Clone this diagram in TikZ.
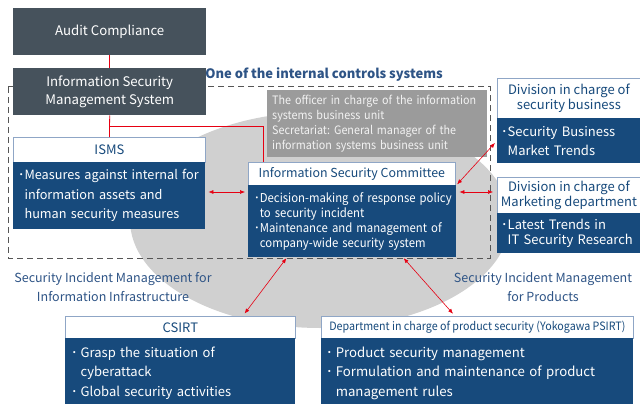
\documentclass[tikz,border=0pt]{standalone}
\usepackage{fontspec}
\usepackage{graphicx}
\setmainfont{Noto Sans CJK JP}
\newfontfamily\cnd[FakeStretch=0.93]{Noto Sans CJK JP}
\usetikzlibrary{arrows.meta}
\definecolor{slate}{HTML}{46525C}
\definecolor{navy}{HTML}{174A7C}
\definecolor{hdrline}{HTML}{8FA6C6}
\definecolor{lbl}{HTML}{2E5486}
\definecolor{ell}{HTML}{D0D0D0}
\definecolor{offc}{HTML}{9B9B9B}
\definecolor{offtxt}{HTML}{F2F2F2}
\definecolor{redl}{HTML}{E60012}
\definecolor{dashc}{HTML}{555555}
\newcommand\fsz[2]{\fontsize{#1}{#2}\selectfont}
\newcommand\bl{･}
\newcommand\cbl{\hphantom{･}}
\frenchspacing
\begin{document}
\frenchspacing
\begin{tikzpicture}[x=1pt,y=-1pt,
 dark/.style={fill=slate,text=white,inner sep=0,anchor=north west,align=center,font=\fsz{13.2}{18}},
 hdr/.style={draw=hdrline,line width=0.8pt,fill=white,text=navy,inner sep=0,anchor=north west,align=center},
 bodybox/.style={fill=navy,text=white,anchor=north west,align=left,inner ysep=0},
 redline/.style={draw=redl,line width=0.8pt},
 redarrow/.style={draw=redl,line width=0.6pt,{Latex[length=5pt,width=4pt]}-{Latex[length=5pt,width=4pt]}},
 lbltext/.style={text=lbl,align=center,font=\fsz{12.5}{19}}]
\useasboundingbox (0,0) rectangle (640,404);
\fill[white] (0,0) rectangle (640,404);
% background ellipse
\fill[ell] (320,220) ellipse [x radius=190pt, y radius=108pt];
% dashed frame
\draw[dashc,line width=1pt,dash pattern=on 6pt off 4pt] (8,87) rectangle (490,258);
\node[text=lbl,font=\bfseries\fsz{13}{15}] (ctrl) at (324,75) {One of the internal controls systems};

% boxes
\node[dark,minimum width=193pt,minimum height=47pt] (audit) at (13,8) {Audit Compliance};
\node[dark,minimum width=193pt,minimum height=47pt] (ims) at (13,68) {Information Security\\Management System};

\node[hdr,minimum width=192pt,minimum height=25pt,font=\fsz{13}{16}] (ismshdr) at (13,137) {ISMS};
\node[bodybox,text width=182pt,inner xsep=5pt,minimum height=67pt,font=\fsz{12.7}{19.5}] (ismsbody) at (13,162)
 {\mbox{\bl Measures against internal for}\\\mbox{\cbl information assets and}\\\mbox{\cbl human security measures}};

\node[fill=offc,text=offtxt,anchor=north west,minimum height=67pt,text width=210pt,inner xsep=5pt,inner ysep=0,align=left,font=\cnd\fsz{11.6}{15}] (officer) at (267,90)
 {\mbox{The officer in charge of the information}\\\mbox{systems business unit}\\\mbox{Secretariat: General manager of the}\\\mbox{information systems business unit}};

% red connectors
\coordinate (j) at ([yshift=-11pt]ims.south);
\draw[redline] (audit.south) -- (ims.north);
\draw[redline] (ims.south) -- (ismshdr.north);

\node[hdr,minimum width=207pt,minimum height=23pt,font=\fsz{12.4}{15}] (comhdr) at (248,162) {Information Security Committee};
\draw[redline] (j) -| ([xshift=15pt]comhdr.north west);
\node[bodybox,text width=196pt,inner xsep=6pt,minimum height=72pt,font=\cnd\fsz{12.2}{15}] (combody) at (248,185)
 {\mbox{\bl Decision-making of response policy}\\\mbox{\cbl to security incident}\\\mbox{\bl Maintenance and management of}\\\mbox{\cbl company-wide security system}};

\node[hdr,minimum width=143pt,minimum height=40pt,font=\fsz{13}{14.5}] (sechdr) at (497,78) {Division in charge of\\security business};
\node[bodybox,text width=135pt,inner xsep=4pt,minimum height=45pt,font=\fsz{13}{19}] (secbody) at (497,118)
 {\mbox{\bl Security Business}\\\mbox{\cbl Market Trends}};

\node[hdr,minimum width=143pt,minimum height=36pt,font=\fsz{13}{15}] (mkthdr) at (497,177) {Division in charge of\\Marketing department};
\node[bodybox,text width=135pt,inner xsep=4pt,minimum height=40pt,font=\fsz{13}{15}] (mktbody) at (497,213)
 {\mbox{\bl Latest Trends in}\\\mbox{\cbl IT Security Research}};

\node[lbltext] (lblinfra) at (113,287) {Security Incident Management for\\Information Infrastructure};
\node[lbltext] (lblprod) at (543,287) {Security Incident Management\\for Products};

\node[hdr,minimum width=230pt,minimum height=22pt,font=\fsz{13}{15}] (csirthdr) at (65,316) {CSIRT};
\node[bodybox,text width=218pt,inner xsep=6pt,minimum height=70pt,font=\fsz{13}{19.5}] (csirtbody) at (65,338)
 {\mbox{\bl\hspace{3pt}Grasp the situation of}\\\mbox{\cbl\hspace{3pt}cyberattack}\\\mbox{\bl\hspace{3pt}Global security activities}};

\node[hdr,minimum width=312pt,minimum height=22pt,font=\fsz{11.5}{14}] (psirthdr) at (321,316) {\scalebox{0.93}[1]{Department in charge of product security (Yokogawa PSIRT)}};
\node[bodybox,text width=302pt,inner xsep=5pt,minimum height=70pt,font=\fsz{13.2}{19.5}] (psirtbody) at (321,338)
 {\mbox{\bl\hspace{3pt}Product security management}\\\mbox{\bl\hspace{3pt}Formulation and maintenance of product}\\\mbox{\cbl\hspace{3pt}management rules}};

% arrows
\coordinate (ic) at ([yshift=-30pt]ismsbody.north east);
\draw[redarrow,shorten <=3pt,shorten >=3pt] (ic) -- (ic -| combody.west);
\coordinate (cm) at ([yshift=-7pt]combody.north east);
\draw[redarrow,shorten <=3pt,shorten >=4pt] (cm) -- (cm -| mkthdr.west);
\draw[redarrow,shorten <=2pt,shorten >=3pt] (comhdr.south east) -- (secbody.west);
\draw[redarrow,shorten <=1pt,shorten >=3pt] ([xshift=39pt]combody.south west) -- ([xshift=-53pt]csirthdr.north east);
\draw[redarrow,shorten <=1pt,shorten >=3pt] ([xshift=155pt]combody.south west) -- ([xshift=134pt]psirthdr.north west);
\end{tikzpicture}
\end{document}
